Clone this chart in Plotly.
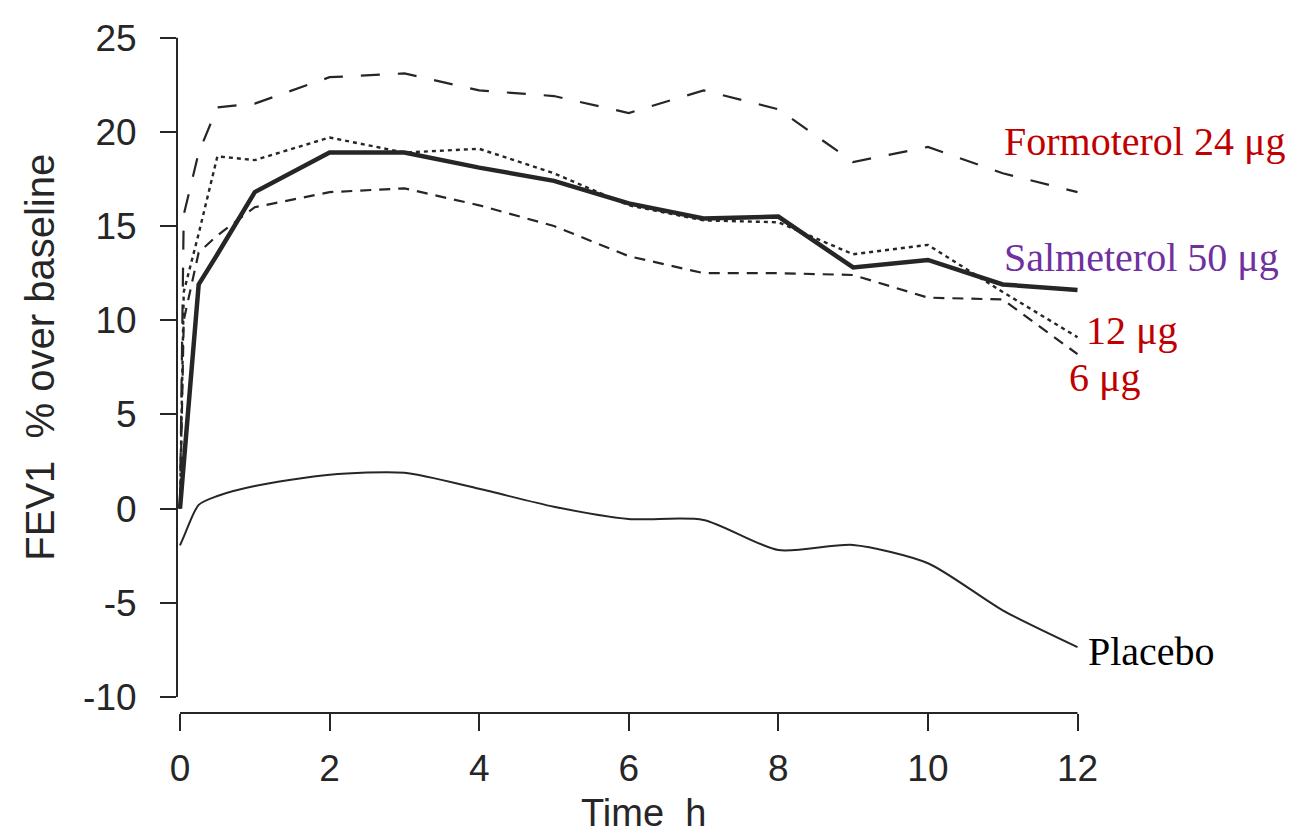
import plotly.graph_objects as go

# Measurement times (hours after inhalation)
time_h = [0, 0.05, 0.25, 0.5, 1, 2, 3, 4, 5, 6, 7, 8, 9, 10, 11, 12]

# FEV1, % change over baseline
formoterol_24 = [0, 15.6, 18.9, 21.3, 21.5, 22.9, 23.1, 22.2, 21.9, 21.0, 22.2, 21.2, 18.4, 19.2, 17.8, 16.8]
formoterol_12 = [0, 11.5, 14.6, 18.7, 18.5, 19.7, 18.9, 19.1, 17.8, 16.1, 15.3, 15.2, 13.5, 14.0, 11.5, 9.1]
formoterol_6 = [0, 10.0, 13.6, 14.5, 16.0, 16.8, 17.0, 16.1, 15.0, 13.4, 12.5, 12.5, 12.4, 11.2, 11.1, 8.2]
salmeterol_50 = [0, 2.5, 11.9, 13.5, 16.8, 18.9, 18.9, 18.1, 17.4, 16.2, 15.4, 15.5, 12.8, 13.2, 11.9, 11.6]
placebo = [-1.95, -1.5, 0.2, 0.67, 1.2, 1.8, 1.9, 1.05, 0.1, -0.55, -0.6, -2.2, -1.93, -2.9, -5.4, -7.35]

x_ticks = [0, 2, 4, 6, 8, 10, 12]
y_ticks = [-10, -5, 0, 5, 10, 15, 20, 25]
y_tick_text = ["-10", "-5", "0", "5", "10", "15", "20", "25"]

INK = "#262626"
RED = "#C00000"
PURPLE = "#7030A0"
SANS = "Liberation Sans, Arial, Helvetica, sans-serif"
SERIF = "Liberation Serif, Times New Roman, serif"

fig = go.Figure()

fig.add_trace(go.Scatter(x=time_h, y=placebo, mode="lines",
                         line=dict(color=INK, width=2, shape="spline", smoothing=0.7)))
fig.add_trace(go.Scatter(x=time_h, y=formoterol_6, mode="lines",
                         line=dict(color=INK, width=2.2, dash="11px,8px")))
fig.add_trace(go.Scatter(x=time_h, y=formoterol_12, mode="lines",
                         line=dict(color=INK, width=2.4, dash="4px,4px")))
fig.add_trace(go.Scatter(x=time_h, y=formoterol_24, mode="lines",
                         line=dict(color=INK, width=2.2, dash="19px,18px")))
fig.add_trace(go.Scatter(x=time_h, y=salmeterol_50, mode="lines",
                         line=dict(color=INK, width=4.5)))

# Series labels at the right-hand end of the curves (x in paper units, y in data units)
labels = [
    ("Formoterol 24 \u03bcg", 0.915, 19.5, RED),
    ("Salmeterol 50 \u03bcg", 0.915, 13.35, PURPLE),
    ("12 \u03bcg", 1.005, 9.45, RED),
    ("6 \u03bcg", 0.987, 6.95, RED),
    ("Placebo", 1.008, -7.6, "black"),
]
for text, lx, ly, col in labels:
    fig.add_annotation(x=lx, y=ly, xref="paper", yref="y", text=text, showarrow=False,
                       xanchor="left", yanchor="middle",
                       font=dict(family=SERIF, size=40, color=col))

# Axis titles
fig.add_annotation(x=0.517, y=-0.147, xref="paper", yref="paper",
                   text="Time\u00a0 h", showarrow=False, xanchor="center", yanchor="middle",
                   font=dict(family=SANS, size=38, color=INK))
fig.add_annotation(x=-0.152, y=0.523, xref="paper", yref="paper",
                   text="FEV1\u00a0 % over baseline", showarrow=False, textangle=-90,
                   xanchor="center", yanchor="middle",
                   font=dict(family=SANS, size=40, color=INK))

# Detached axis lines spanning only the tick range
fig.add_shape(type="line", xref="paper", yref="y", x0=0, x1=0, y0=-10, y1=25,
              line=dict(color=INK, width=2))
fig.add_shape(type="line", xref="x", yref="paper", x0=0, x1=12, y0=0, y1=0,
              line=dict(color=INK, width=2))

fig.update_layout(
    width=1312, height=837,
    margin=dict(l=177, r=233, t=32, b=124),
    paper_bgcolor="white", plot_bgcolor="white",
    showlegend=False,
    xaxis=dict(range=[-0.04, 12.02], tickvals=x_ticks, ticks="outside", ticklen=17,
               tickwidth=2, tickcolor=INK, showline=False, showgrid=False, zeroline=False,
               tickfont=dict(family=SANS, size=37, color=INK), ticklabelstandoff=6),
    yaxis=dict(range=[-10.85, 25.3], tickvals=y_ticks, ticktext=y_tick_text, ticks="outside",
               ticklen=16, tickwidth=2, tickcolor=INK, showline=False, showgrid=False,
               zeroline=False, tickfont=dict(family=SANS, size=37, color=INK),
               ticklabelstandoff=16),
)

fig.write_html("out.html")
